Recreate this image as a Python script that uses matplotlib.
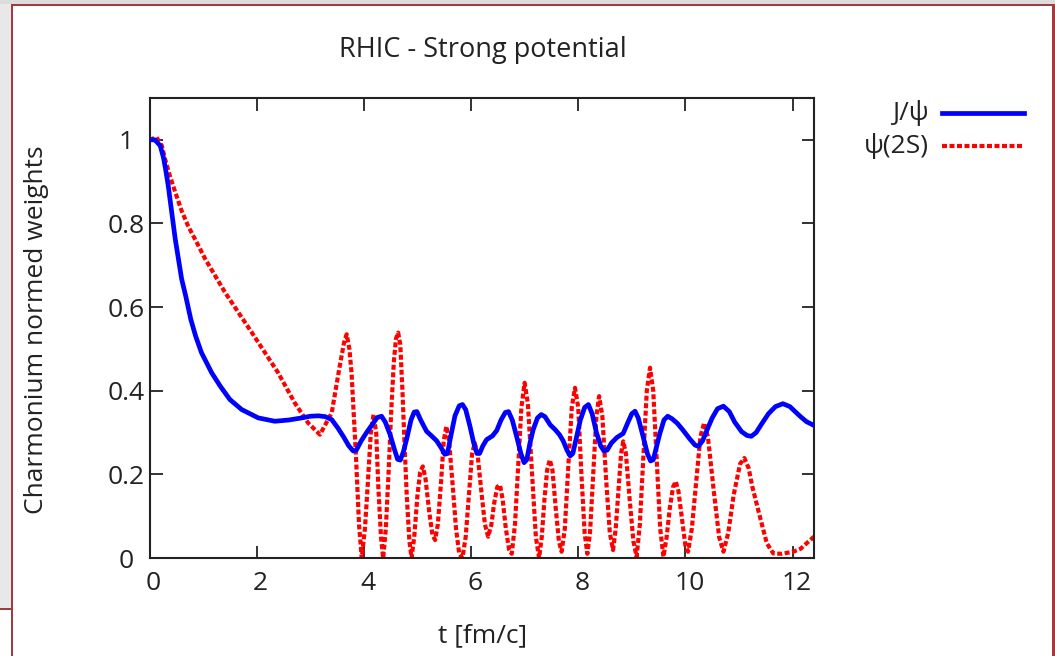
import matplotlib
matplotlib.use("Agg")
import matplotlib.pyplot as plt
import matplotlib.transforms as mtransforms
from matplotlib.patches import Rectangle
from matplotlib.lines import Line2D

W, H = 1055, 656

title = "RHIC - Strong potential"
xlabel = "t [fm/c]"
ylabel = "Charmonium normed weights"
series_names = ["J/\u03c8", "\u03c8(2S)"]

xticks = [0, 2, 4, 6, 8, 10, 12]
yticks = [0, 0.2, 0.4, 0.6, 0.8, 1.0]
ytick_labels = ["0", "0.2", "0.4", "0.6", "0.8", "1"]

t_jpsi = [0, 0.10, 0.20, 0.26, 0.30, 0.35, 0.43, 0.48, 0.54, 0.60, 0.675, 0.77, 0.86, 0.97,
          1.16, 1.32, 1.50, 1.72, 2.03, 2.34, 2.60, 2.84, 3.00, 3.15, 3.28, 3.40, 3.52, 3.62,
          3.72, 3.80, 3.86, 3.95, 4.05, 4.15, 4.25, 4.33, 4.40, 4.49, 4.57, 4.63, 4.68, 4.74,
          4.80, 4.88, 4.94, 4.99, 5.06, 5.17, 5.28, 5.36, 5.45, 5.51, 5.56, 5.62, 5.70, 5.78,
          5.84, 5.90, 5.98, 6.05, 6.11, 6.16, 6.22, 6.29, 6.40, 6.48, 6.56, 6.64, 6.70, 6.77,
          6.85, 6.93, 6.99, 7.04, 7.10, 7.16, 7.24, 7.31, 7.38, 7.48, 7.57, 7.65, 7.72, 7.79,
          7.85, 7.90, 7.97, 8.04, 8.12, 8.19, 8.26, 8.34, 8.42, 8.48, 8.54, 8.62, 8.72, 8.84,
          8.93, 9.00, 9.06, 9.12, 9.21, 9.29, 9.35, 9.40, 9.46, 9.52, 9.60, 9.67, 9.75, 9.85,
          9.96, 10.08, 10.18, 10.24, 10.32, 10.40, 10.50, 10.60, 10.71, 10.82, 10.92, 11.05,
          11.15, 11.23, 11.32, 11.42, 11.55, 11.68, 11.82, 11.95, 12.05, 12.14, 12.26, 12.40]
v_jpsi = [1.0, 1.0, 0.986, 0.958, 0.930, 0.890, 0.811, 0.763, 0.715, 0.667, 0.627, 0.571, 0.531, 0.491,
          0.443, 0.411, 0.379, 0.355, 0.335, 0.327, 0.330, 0.335, 0.339, 0.340, 0.338, 0.331, 0.310, 0.290,
          0.268, 0.256, 0.258, 0.280, 0.300, 0.318, 0.336, 0.339, 0.325, 0.295, 0.260, 0.236, 0.234, 0.255,
          0.285, 0.330, 0.349, 0.350, 0.330, 0.303, 0.290, 0.280, 0.262, 0.248, 0.250, 0.290, 0.340, 0.364,
          0.367, 0.355, 0.315, 0.275, 0.250, 0.250, 0.268, 0.283, 0.292, 0.305, 0.330, 0.348, 0.350, 0.330,
          0.291, 0.250, 0.228, 0.235, 0.275, 0.307, 0.335, 0.343, 0.338, 0.318, 0.307, 0.295, 0.280, 0.258,
          0.244, 0.250, 0.290, 0.330, 0.360, 0.367, 0.345, 0.300, 0.268, 0.256, 0.258, 0.275, 0.288, 0.298,
          0.325, 0.345, 0.351, 0.335, 0.291, 0.250, 0.232, 0.235, 0.265, 0.296, 0.330, 0.339, 0.333, 0.322,
          0.305, 0.285, 0.270, 0.267, 0.280, 0.305, 0.335, 0.357, 0.363, 0.350, 0.325, 0.302,
          0.293, 0.291, 0.300, 0.320, 0.345, 0.362, 0.369, 0.362, 0.350, 0.339, 0.326, 0.317]

t_psi2s = [0, 0.13, 0.23, 0.29, 0.38, 0.48, 0.60, 0.72, 0.88, 1.04, 1.41, 1.91, 2.40, 2.71, 2.96,
           3.18, 3.40, 3.55, 3.63, 3.68, 3.73, 3.77, 3.85, 3.91, 3.96, 4.02, 4.07, 4.13, 4.18,
           4.23, 4.27, 4.32, 4.36, 4.41, 4.46, 4.51, 4.56, 4.60, 4.64, 4.68, 4.72, 4.76, 4.80,
           4.85, 4.89, 4.94, 5.00, 5.05, 5.10, 5.15, 5.22, 5.28, 5.33, 5.38, 5.44, 5.49, 5.54,
           5.59, 5.66, 5.72, 5.78, 5.84, 5.90, 5.96, 6.02, 6.07, 6.12, 6.20, 6.26, 6.32, 6.38,
           6.43, 6.49, 6.54, 6.59, 6.65, 6.71, 6.76, 6.82, 6.88, 6.94, 7.00, 7.06, 7.14, 7.21,
           7.27, 7.32, 7.37, 7.42, 7.47, 7.52, 7.58, 7.64, 7.69, 7.75, 7.82, 7.88, 7.94, 8.00,
           8.06, 8.12, 8.17, 8.22, 8.28, 8.34, 8.39, 8.45, 8.52, 8.59, 8.65, 8.70, 8.75, 8.80,
           8.84, 8.89, 8.96, 9.03, 9.09, 9.15, 9.22, 9.28, 9.34, 9.40, 9.47, 9.53, 9.59, 9.65,
           9.71, 9.77, 9.82, 9.87, 9.94, 10.00, 10.05, 10.12, 10.20, 10.28, 10.35, 10.42, 10.53,
           10.63, 10.71, 10.80, 10.90, 11.02, 11.10, 11.18, 11.25, 11.39, 11.52, 11.64, 11.80,
           12.01, 12.15, 12.26, 12.40]
v_psi2s = [1.0, 1.006, 0.986, 0.954, 0.914, 0.875, 0.830, 0.794, 0.755, 0.715, 0.635, 0.539, 0.443, 0.371, 0.323,
           0.295, 0.347, 0.459, 0.515, 0.535, 0.500, 0.443, 0.251, 0.080, 0.0, 0.070, 0.170, 0.300, 0.343,
           0.300, 0.170, 0.050, 0.0, 0.070, 0.200, 0.350, 0.470, 0.525, 0.539, 0.510, 0.400, 0.270, 0.150,
           0.040, 0.0, 0.050, 0.150, 0.205, 0.219, 0.190, 0.110, 0.055, 0.043, 0.080, 0.180, 0.280, 0.315,
           0.280, 0.170, 0.070, 0.010, 0.0, 0.050, 0.150, 0.250, 0.275, 0.250, 0.150, 0.080, 0.051, 0.080,
           0.130, 0.170, 0.175, 0.140, 0.070, 0.020, 0.010, 0.080, 0.220, 0.360, 0.419, 0.370, 0.200, 0.050,
           0.0, 0.050, 0.140, 0.210, 0.235, 0.210, 0.120, 0.040, 0.015, 0.070, 0.230, 0.360, 0.407, 0.360,
           0.200, 0.060, 0.010, 0.060, 0.200, 0.340, 0.387, 0.340, 0.190, 0.060, 0.019, 0.070, 0.160, 0.250,
           0.279, 0.250, 0.140, 0.040, 0.003, 0.080, 0.250, 0.400, 0.455, 0.400, 0.220, 0.070, 0.003, 0.050,
           0.120, 0.170, 0.183, 0.160, 0.090, 0.030, 0.015, 0.070, 0.180, 0.290, 0.323, 0.290, 0.160,
           0.050, 0.015, 0.060, 0.150, 0.225, 0.239, 0.215, 0.170, 0.099, 0.035, 0.011, 0.010,
           0.015, 0.022, 0.035, 0.051]

FS = 19
FONT = "Open Sans"
plt.rcParams["font.family"] = [FONT, "DejaVu Sans"]

fig = plt.figure(figsize=(W / 100, H / 100), dpi=100)
fig.patch.set_facecolor("white")

def px_rect(x0, y0, x1, y1, color):
    # pixel coords with top-left origin
    fig.add_artist(Rectangle((x0 / W, 1 - y1 / H), (x1 - x0) / W, (y1 - y0) / H,
                             transform=fig.transFigure, facecolor=color, edgecolor="none", zorder=0))

frame_red = "#a23c3c"
px_rect(0, 0, W, 4, "#dcdcdc")
px_rect(0, 4, 11, 609, "#e8e8e8")
px_rect(11, 4, 13, H, frame_red)
px_rect(11, 4, W, 6, frame_red)
px_rect(1052, 4, W, H, frame_red)
px_rect(0, 608, 11, 610, frame_red)

ax_l, ax_r, ax_t, ax_b = 149.5, 814, 98, 558
ax = fig.add_axes([ax_l / W, 1 - ax_b / H, (ax_r - ax_l) / W, (ax_b - ax_t) / H])

blue_line, = ax.plot(t_jpsi, v_jpsi, color="#0000ff", lw=3.4, solid_joinstyle="round",
                     solid_capstyle="round", zorder=3)
red_line, = ax.plot(t_psi2s, v_psi2s, color="#ff0000", lw=3.0, linestyle=(0, (1.2, 0.6)),
                    dash_joinstyle="round", zorder=2)

ax.set_xlim(0, 12.4)
ax.set_ylim(0, 1.1)
ax.set_xticks(xticks)
ax.set_xticklabels([str(x) for x in xticks])
ax.set_yticks(yticks)
ax.set_yticklabels(ytick_labels)
ax.tick_params(direction="in", length=9, width=1.3, top=True, right=True,
               labelsize=FS, colors="#222222")
ax.tick_params(axis="x", pad=9)
ax.tick_params(axis="y", pad=16.5)
for lab in ax.get_yticklabels():
    lab.set_horizontalalignment("center")
xoff = mtransforms.ScaledTranslation(4 / 100, 0, fig.dpi_scale_trans)
for lab in ax.get_xticklabels():
    lab.set_transform(lab.get_transform() + xoff)
for s in ax.spines.values():
    s.set_linewidth(1.5)
    s.set_color("#222222")

fig.text(483 / W, 1 - 50 / H, title, ha="center", va="center", fontsize=FS + 0.5, color="#222222")
fig.text(483 / W, 1 - 636 / H, xlabel, ha="center", va="center", fontsize=FS, color="#222222")
fig.text(37 / W, 1 - 330 / H, ylabel, ha="center", va="center", rotation=90, fontsize=FS,
         color="#222222")

# legend (gnuplot style: text right-aligned then line sample)
fig.text(929 / W, 1 - 113 / H, series_names[0], ha="right", va="center", fontsize=FS, color="#222222")
fig.text(929 / W, 1 - 146 / H, series_names[1], ha="right", va="center", fontsize=FS, color="#222222")
fig.add_artist(Line2D([942 / W, 1024 / W], [1 - 113 / H, 1 - 113 / H], transform=fig.transFigure,
                      color="#0000ff", lw=3.4))
fig.add_artist(Line2D([942 / W, 1022 / W], [1 - 146 / H, 1 - 146 / H], transform=fig.transFigure,
                      color="#ff0000", lw=3.0, linestyle=(0, (1.2, 0.6))))

fig.savefig("out.png", dpi=100)
